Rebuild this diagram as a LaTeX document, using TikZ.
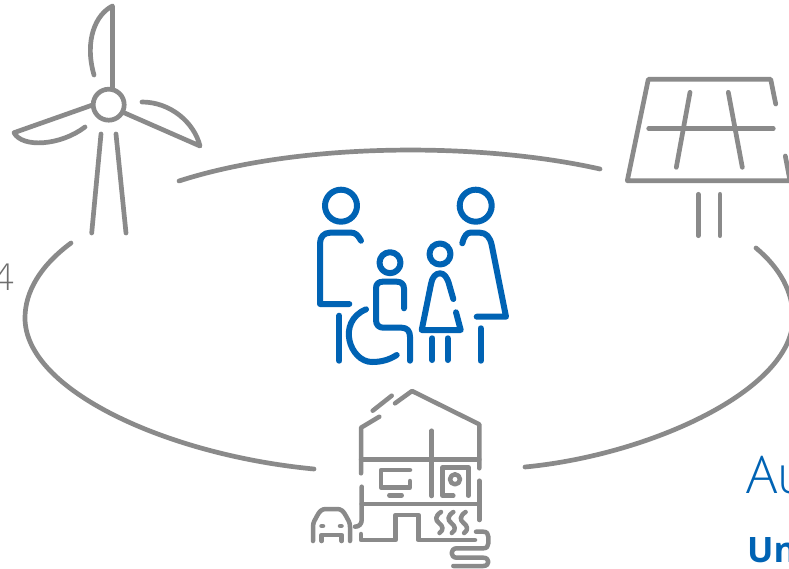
\documentclass[tikz,border=0pt]{standalone}
\usepackage{fontspec}
\setmainfont{Open Sans}
\newfontfamily\lightfont{Open Sans Light}
\definecolor{icongray}{HTML}{8A8A8A}
\definecolor{iconblue}{HTML}{0063B4}
\definecolor{numgray}{HTML}{6E6E6E}
\tikzset{
  gr/.style={draw=icongray,line width=4.7pt,line cap=round,line join=round,fill=none},
  grs/.style={draw=icongray,line width=4.5pt,line cap=round,line join=round,fill=none},
  bl/.style={draw=iconblue,line width=6pt,line cap=round,line join=round,fill=none},
  lab/.style={inner sep=0pt,anchor=base west}
}
\begin{document}
\begin{tikzpicture}[x=1pt,y=-1pt]
\useasboundingbox (0,0) rectangle (789,568);
\clip (0,0) rectangle (789,568);
\fill[white] (0,0) rectangle (789,568);
% cycle arcs
\draw[gr] (179,181) .. controls (300,142) and (480,142) .. (600,169);
\draw[gr] (71,243) .. controls (40,266) and (25,292) .. (25,318) .. controls (25,390) and (167,455) .. (314,469);
\draw[gr] (756,248) .. controls (780,268) and (793,292) .. (793,318) .. controls (793,390) and (650,455) .. (525,467);
% wind turbine
\draw[gr] (108.7,104.7) circle (15.5);
\draw[gr] (112.5,88) -- (112.5,6) .. controls (96,14) and (84,40) .. (94,75);
\draw[gr] (91.7,105.3) -- (14,132.7) .. controls (22,148) and (60,146) .. (85,127);
\draw[gr] (124,112.7) -- (200,146) .. controls (194,122) and (170,102) .. (142,102);
\draw[gr] (101,134) -- (91.7,233);
\draw[gr] (116,134) -- (126,233);
% solar panel
\draw[gr] (775.7,104) -- (770.7,79.3) -- (648.3,79.3) -- (627.3,180.7) -- (795,180.7);
\draw[gr] (785.3,156) -- (790,180.7);
\draw[gr] (648.7,128.7) -- (773.3,128.7);
\draw[gr] (690,92.3) -- (676.3,167.3);
\draw[gr] (728.3,92.3) -- (742.3,167.3);
\draw[gr] (698.3,194.3) -- (698.3,235.7);
\draw[gr] (720,194.3) -- (720,235.7);
% house
\draw[grs] (361,473.3) -- (361,427.7) -- (379.3,416.7);
\draw[grs] (372.7,410.7) -- (391.7,395.7);
\draw[grs] (395,403.3) -- (412,391) -- (479.3,424.3) -- (479.3,468.3);
\draw[grs] (361,459.3) -- (479.3,459.3);
\draw[grs] (431.7,430.7) -- (431.7,496);
\draw[grs] (410,470) -- (381,470) -- (381,487.3) -- (410,487.3) -- (410,481);
\draw[grs] (389.3,495.3) -- (401.7,495.3);
\draw[grs] (453.3,495.7) -- (442.7,495.7) -- (442.7,467.3) -- (468.3,467.3) -- (468.3,495.7);
\draw[grs] (455,479.3) circle (5);
\draw[grs] (361.7,486.7) -- (361.7,520) .. controls (361.7,524) and (359,526.7) .. (355,526.7);
\draw[grs] (361.7,504) -- (479.3,504);
\draw[grs] (479.3,480.7) -- (479.3,520);
\draw[grs] (361,534) -- (361,540) -- (395.7,540) -- (395.7,515) -- (418.3,515) -- (418.3,540) -- (475,540);
% heating
\foreach \dx in {0,12.3,24.6}{
  \draw[grs,xshift=\dx pt] (441,512) .. controls (435,516) and (435,520) .. (439,523) .. controls (443,526) and (444,530) .. (439.5,533);
}
% pipe coil
\draw[grs] (476,531.7) -- (483.3,531.7) .. controls (486.5,531.7) and (488.3,533.5) .. (488.3,536.5) -- (488.3,543.5) .. controls (488.3,546.5) and (486.5,548.3) .. (483.3,548.3) -- (456.7,548.3) .. controls (450,548.3) and (450,557.7) .. (456.7,557.7) -- (483.3,557.7) .. controls (490,557.7) and (490,566) .. (483.3,566) -- (453.3,566);
% car
\draw[grs] (313,541) -- (313,527) .. controls (313,522) and (315,520) .. (317,516) .. controls (319.5,511) and (322,509) .. (326,509) -- (337,509) .. controls (341,509) and (343.5,511) .. (346,516) .. controls (348,520) and (350,522) .. (350,527) -- (350,541);
\draw[grs] (321.5,526) -- (323,526);
\draw[grs] (340,526) -- (341.5,526);
\draw[grs] (321.7,541) -- (321.7,535) -- (341.7,535) -- (341.7,541);
% family
\draw[bl] (341,205.7) circle (16);
\draw[bl] (361,240.7) .. controls (358,235) and (355,232.7) .. (351.7,232.7) -- (330,232.7) .. controls (324,232.7) and (320,237) .. (320,243.3) -- (320,304) -- (349.3,304);
\draw[bl] (339.3,315.7) -- (339.3,360.7);
\draw[bl] (390,262.7) circle (10.5);
\draw[bl] (404,308.3) -- (404,288.5) .. controls (404,284) and (401,281.7) .. (396.7,281.7) -- (382.7,281.7) .. controls (378.5,281.7) and (376,284) .. (376,288.3) -- (376,320) .. controls (376,325) and (379,327.7) .. (383.3,327.7) -- (401.7,327.7) .. controls (407,327.7) and (410,331) .. (410,336.7) -- (410,360.7);
\draw[bl] (366,309.3) .. controls (336,322) and (350,362) .. (372,362) .. controls (381,362) and (389,360) .. (396.7,355);
\draw[bl] (440,254) circle (10.5);
\draw[bl] (453.3,299) -- (449,284) .. controls (447,277) and (444,273.3) .. (440,273.3) .. controls (436,273.3) and (432,277) .. (431,284) -- (421.7,330) -- (460.7,330) -- (456,312.3);
\draw[bl] (432.3,338.3) -- (432.3,360);
\draw[bl] (447.7,338.3) -- (447.7,360);
\draw[bl] (475.7,205.7) circle (16);
\draw[bl] (462.3,243.3) .. controls (464,236) and (467,232.7) .. (470,232.7) -- (480,232.7) .. controls (486,232.7) and (490,237) .. (491.7,245) -- (506,316.7) -- (476.7,316.7);
\draw[bl] (480.7,328.3) -- (480.7,360.7);
% text fragments
\node[lab,anchor=base east,text=numgray,font=\lightfont\fontsize{37}{37}\selectfont] (pagenum) at (14,290) {4};
\node[lab,text=iconblue,font=\lightfont\fontsize{52}{52}\selectfont] (au) at (746,493) {Au};
\node[lab,text=iconblue,font=\bfseries\fontsize{35}{35}\selectfont] (un) at (747,562) {Un};
\end{tikzpicture}
\end{document}
